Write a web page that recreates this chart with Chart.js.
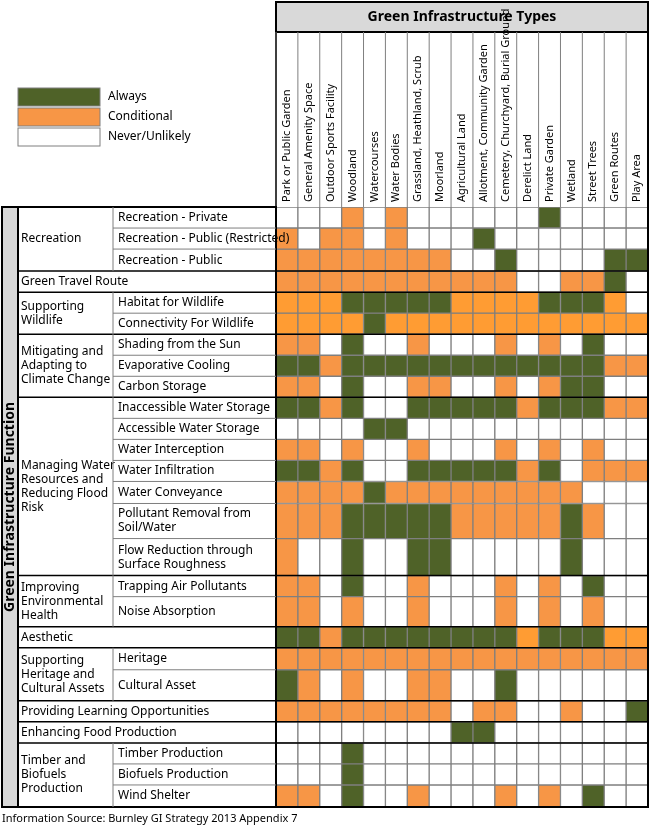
<!DOCTYPE html>
<html>
<head>
<meta charset="utf-8">
<script src="https://cdn.jsdelivr.net/npm/chart.js@4"></script>
<style>
  body { margin: 0; background: #fff; }
  #wrap { width: 650px; height: 829px; position: relative; }
</style>
</head>
<body>
<div id="wrap"><canvas id="giChart"></canvas></div>
<script>
// Column categories (GI types)
const giTypes = ['Park or Public Garden', 'General Amenity Space', 'Outdoor Sports Facility', 'Woodland',
  'Watercourses', 'Water Bodies', 'Grassland, Heathland, Scrub', 'Moorland', 'Agricultural Land',
  'Allotment, Community Garden', 'Cemetery, Churchyard, Burial Ground', 'Derelict Land', 'Private Garden',
  'Wetland', 'Street Trees', 'Green Routes', 'Play Area'];

// Row functions and their relative heights
const functions = ['Recreation - Private', 'Recreation - Public (Restricted)', 'Recreation - Public',
  'Green Travel Route', 'Habitat for Wildlife', 'Connectivity For Wildlife', 'Shading from the Sun',
  'Evaporative Cooling', 'Carbon Storage', 'Inaccessible Water Storage', 'Accessible Water Storage',
  'Water Interception', 'Water Infiltration', 'Water Conveyance', 'Pollutant Removal from|Soil/Water',
  'Flow Reduction through|Surface Roughness', 'Trapping Air Pollutants', 'Noise Absorption', 'Aesthetic',
  'Heritage', 'Cultural Asset', 'Providing Learning Opportunities', 'Enhancing Food Production',
  'Timber Production', 'Biofuels Production', 'Wind Shelter'];
const rowHeights = [21, 21, 22, 21, 21, 21, 21, 21, 21, 21, 21, 21, 21, 22, 35, 37, 21, 30, 21, 22, 31, 21, 21, 21, 21, 22];

// Groups: [label, first row, last row, full width]
const groups = [
  ['Recreation', 0, 2, false], ['Green Travel Route', 3, 3, true], ['Supporting|Wildlife', 4, 5, false],
  ['Mitigating and|Adapting to|Climate Change', 6, 8, false],
  ['Managing Water|Resources and|Reducing Flood|Risk', 9, 15, false],
  ['Improving|Environmental|Health', 16, 17, false], ['Aesthetic', 18, 18, true],
  ['Supporting|Heritage and|Cultural Assets', 19, 20, false], ['Providing Learning Opportunities', 21, 21, true],
  ['Enhancing Food Production', 22, 22, true], ['Timber and|Biofuels|Production', 23, 25, false]];

// 0 = never/unlikely, 1 = conditional, 2 = always, 3 = conditional (bright)
const cells = [
  [0,0,0,1,0,1,0,0,0,0,0,0,2,0,0,0,0],
  [1,0,1,1,0,1,0,0,0,2,0,0,0,0,0,0,0],
  [1,1,1,1,1,1,1,1,0,0,2,0,0,0,0,2,2],
  [1,1,1,1,1,1,1,1,1,1,1,0,0,1,1,2,0],
  [3,3,3,2,2,2,2,2,3,3,3,3,2,2,2,3,0],
  [3,3,3,3,2,3,3,3,3,3,3,3,3,3,3,3,3],
  [1,1,0,2,0,0,1,0,0,0,1,0,1,0,2,0,0],
  [2,2,1,2,2,2,2,2,2,2,2,2,2,2,2,1,1],
  [1,1,0,2,0,0,1,1,0,0,1,0,1,2,2,0,0],
  [2,2,1,2,0,0,2,2,2,2,2,1,2,2,2,1,1],
  [0,0,0,0,2,2,0,0,0,0,0,0,0,0,0,0,0],
  [1,1,0,1,0,0,1,0,0,0,1,0,1,0,1,0,0],
  [2,2,1,2,0,0,2,2,2,2,2,1,2,0,1,1,1],
  [1,1,1,1,2,1,1,1,1,1,1,1,1,1,0,0,0],
  [1,1,1,2,2,2,2,2,1,1,1,1,1,2,1,0,0],
  [1,0,0,2,0,0,2,2,0,0,0,0,0,2,0,0,0],
  [1,1,0,2,0,0,1,0,0,0,1,0,1,0,2,0,0],
  [1,1,0,1,0,0,1,0,0,0,1,0,1,0,1,0,0],
  [2,2,1,2,2,2,2,2,2,2,2,3,2,2,2,3,3],
  [1,1,1,1,1,1,1,1,1,1,1,1,1,1,1,1,1],
  [2,1,0,1,0,0,1,1,0,0,2,0,0,0,0,0,0],
  [1,1,1,1,1,1,1,1,0,1,1,0,0,1,0,0,2],
  [0,0,0,0,0,0,0,0,2,2,0,0,0,0,0,0,0],
  [0,0,0,2,0,0,0,0,0,0,0,0,0,0,0,0,0],
  [0,0,0,2,0,0,0,0,0,0,0,0,0,0,0,0,0],
  [1,1,0,2,0,0,1,0,0,0,1,0,1,0,2,0,0]];

const legendLabels = ['Always', 'Conditional', 'Never/Unlikely'];
const colours = ['#ffffff', '#f79646', '#4f6228', '#ff9c33'];

const rowStart = [];
let acc = 0;
rowHeights.forEach(h => { rowStart.push(acc); acc += h; });
const totalHeight = acc;

const datasets = functions.map((f, i) => ({
  label: f,
  data: giTypes.map(() => [rowStart[i], rowStart[i] + rowHeights[i]]),
  backgroundColor: cells[i].map(v => colours[v]),
  borderColor: '#7f7f7f',
  borderWidth: 1,
  borderSkipped: false,
  grouped: false,
  categoryPercentage: 1,
  barPercentage: 1
}));

const FONT = '"Liberation Sans Narrow", "Noto Sans", sans-serif';

function lines(ctx, text, x, y, lh) {
  const parts = text.split('|');
  const y0 = y - (parts.length - 1) * lh / 2;
  parts.forEach((p, k) => ctx.fillText(p, x, y0 + k * lh));
}

// Draw labels, headers and legend around the grid
const decorations = {
  id: 'decorations',
  afterDraw(chart) {
    const { ctx, scales: { x, y }, chartArea: ca } = chart;
    const colW = x.getPixelForValue(1) - x.getPixelForValue(0);
    const bandL = 2, groupL = 18, subL = 113;
    ctx.save();
    ctx.fillStyle = '#000';
    ctx.strokeStyle = '#000';

    // header box
    ctx.fillStyle = '#d9d9d9';
    ctx.fillRect(ca.left, 2, ca.right - ca.left, 30);
    ctx.lineWidth = 2;
    ctx.strokeRect(ca.left, 2, ca.right - ca.left, ca.bottom - 2);
    ctx.beginPath(); ctx.moveTo(ca.left, 32); ctx.lineTo(ca.right, 32); ctx.stroke();
    ctx.fillStyle = '#000';
    ctx.font = 'bold 14px ' + FONT;
    ctx.textAlign = 'center'; ctx.textBaseline = 'middle';
    ctx.fillText('Green Infrastructure Types', (ca.left + ca.right) / 2, 17);

    // column headers
    ctx.lineWidth = 1;
    ctx.font = '11px ' + FONT;
    giTypes.forEach((t, j) => {
      const cx = x.getPixelForValue(j);
      ctx.strokeStyle = '#7f7f7f';
      ctx.beginPath(); ctx.moveTo(cx - colW / 2, 32); ctx.lineTo(cx - colW / 2, ca.top); ctx.stroke();
      ctx.save();
      ctx.translate(cx, ca.top - 5);
      ctx.rotate(-Math.PI / 2);
      ctx.textAlign = 'left';
      ctx.fillText(t, 0, 0);
      ctx.restore();
    });

    // left band
    ctx.strokeStyle = '#000';
    ctx.lineWidth = 2;
    ctx.fillStyle = '#d9d9d9';
    ctx.fillRect(bandL, ca.top, groupL - bandL, ca.bottom - ca.top);
    ctx.strokeRect(bandL, ca.top, ca.left - bandL, ca.bottom - ca.top);
    ctx.beginPath(); ctx.moveTo(groupL, ca.top); ctx.lineTo(groupL, ca.bottom); ctx.stroke();
    ctx.save();
    ctx.fillStyle = '#000';
    ctx.font = 'bold 14px ' + FONT;
    ctx.translate(10, (ca.top + ca.bottom) / 2);
    ctx.rotate(-Math.PI / 2);
    ctx.textAlign = 'center';
    ctx.fillText('Green Infrastructure Function', 0, 0);
    ctx.restore();

    // group and row labels
    ctx.fillStyle = '#000';
    ctx.font = '12px ' + FONT;
    ctx.textAlign = 'left';
    groups.forEach(([label, a, b, full]) => {
      const top = y.getPixelForValue(rowStart[a]);
      const bot = y.getPixelForValue(rowStart[b] + rowHeights[b]);
      ctx.strokeStyle = '#000'; ctx.lineWidth = 1.5;
      ctx.beginPath(); ctx.moveTo(groupL, bot); ctx.lineTo(ca.right, bot); ctx.stroke();
      lines(ctx, label, groupL + 3, full ? (top + bot) / 2 : (top + bot) / 2, 14);
      if (!full) {
        ctx.strokeStyle = '#7f7f7f'; ctx.lineWidth = 1;
        ctx.beginPath(); ctx.moveTo(subL, top); ctx.lineTo(subL, bot); ctx.stroke();
        for (let r = a; r <= b; r++) {
          const rt = y.getPixelForValue(rowStart[r]);
          const rb = y.getPixelForValue(rowStart[r] + rowHeights[r]);
          if (r > a) { ctx.beginPath(); ctx.moveTo(subL, rt); ctx.lineTo(ca.left, rt); ctx.stroke(); }
          lines(ctx, functions[r], subL + 5, (rt + rb) / 2, 14);
        }
      }
    });

    // legend
    legendLabels.forEach((l, k) => {
      const ly = 88 + k * 20;
      ctx.fillStyle = colours[2 - k];
      ctx.fillRect(18, ly, 82, 18);
      ctx.strokeStyle = '#7f7f7f'; ctx.lineWidth = 1;
      ctx.strokeRect(18, ly, 82, 18);
      ctx.fillStyle = '#000';
      ctx.font = '12px ' + FONT;
      ctx.fillText(l, 108, ly + 9);
    });

    ctx.font = '11px ' + FONT;
    ctx.fillText('Information Source: Burnley GI Strategy 2013 Appendix 7', 2, 819);
    ctx.restore();
  }
};

new Chart(document.getElementById('giChart'), {
  type: 'bar',
  data: { labels: giTypes, datasets },
  options: {
    responsive: true,
    maintainAspectRatio: false,
    animation: false,
    layout: { padding: { left: 276, top: 207, right: 2, bottom: 22 } },
    plugins: { legend: { display: false }, tooltip: { enabled: false } },
    scales: {
      x: { display: false, offset: true, grid: { display: false } },
      y: { display: false, min: 0, max: totalHeight, reverse: true }
    }
  },
  plugins: [decorations]
});
</script>
</body>
</html>
